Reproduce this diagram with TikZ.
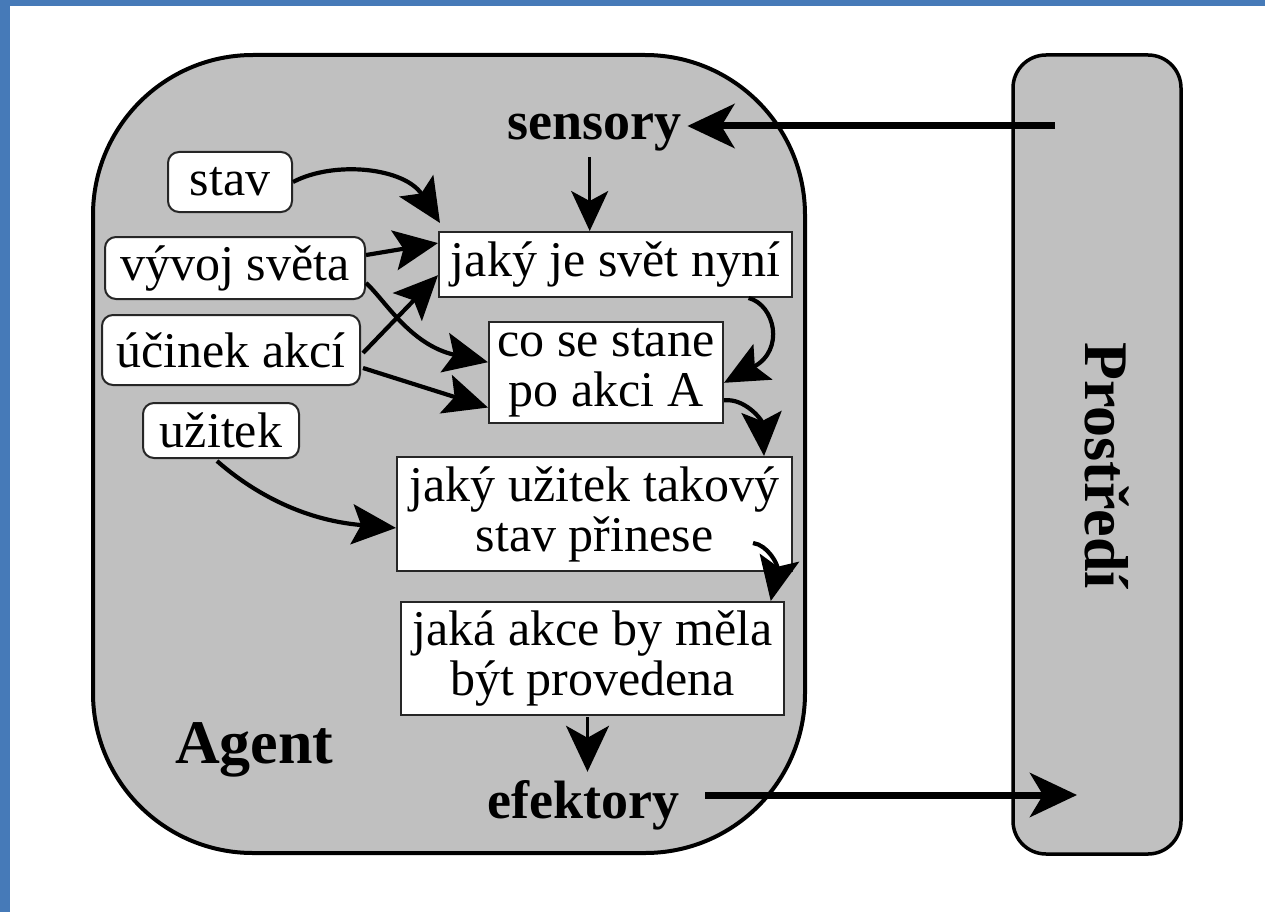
\documentclass[tikz,border=0pt]{standalone}
\usepackage{fontspec}
\setmainfont{Liberation Serif}
\usetikzlibrary{arrows.meta,calc}
\definecolor{slideblue}{RGB}{70,122,184}
\definecolor{panelgray}{RGB}{192,192,192}

\begin{document}
\begin{tikzpicture}[x=1pt,y=-1pt,
  boxtext/.style={font=\fontsize{50}{50}\selectfont},
  infobox/.style={draw=black!85, line width=2pt, fill=white, inner sep=0pt, align=center, boxtext},
  inputbox/.style={infobox, rounded corners=11pt},
  tag/.style={font=\fontsize{54}{54}\selectfont\bfseries, inner sep=0pt},
  bigtag/.style={font=\fontsize{62}{62}\selectfont\bfseries, inner sep=0pt},
  panel/.style={draw, fill=panelgray, inner sep=0pt},
  flow/.style={line width=4.2pt, -{Stealth[length=44pt,width=40pt,inset=9pt]}},
  link/.style={line width=7pt, -{Stealth[length=47pt,width=44pt,inset=13pt]}},
]
% page and slide frame
\useasboundingbox (0,0) rectangle (1265,912);
\fill[white] (0,0) rectangle (1265,912);
\fill[slideblue] (0,0) rectangle (1265,6);
\fill[slideblue] (0,0) rectangle (10,912);

% agent and environment
\node[panel, line width=4pt, rounded corners=160pt, minimum width=712pt, minimum height=798pt] (agent) at (449,454) {};
\node[panel, line width=3.5pt, rounded corners=33pt, minimum width=168pt, minimum height=799pt] (env) at (1097,454.5) {};

% knowledge inputs
\node[inputbox, minimum width=124pt, minimum height=60pt] (stav) at (230,182) {stav};
\node[inputbox, minimum width=260pt, minimum height=62pt] (vyvoj) at (235,268) {vývoj světa};
\node[inputbox, minimum width=258pt, minimum height=70pt] (ucinek) at (231,350) {účinek akcí};
\node[inputbox, minimum width=156pt, minimum height=55pt] (uzitek) at (221,430.5) {užitek};

% reasoning steps
\node[infobox, minimum width=353pt, minimum height=65pt] (now) at (615.5,264.5) {jaký je svět nyní};
\node[infobox, minimum width=234pt, minimum height=101pt] (next) at (606,372.5) {co se stane\\po akci A};
\node[infobox, minimum width=395pt, minimum height=114pt] (util) at (594.5,514) {jaký užitek takový\\stav přinese};
\node[infobox, minimum width=383pt, minimum height=113pt] (act) at (592.5,658.5) {jaká akce by měla\\být provedena};

% labels
\node[tag, anchor=base west] (sens) at (507,140) {sensory};
\node[tag, anchor=base west] (eff) at (487,818) {efektory};
\node[bigtag, anchor=base west] (agentlabel) at (175,763) {Agent};
\node[bigtag, rotate=-90, anchor=base west] (envlabel) at (1085,342) {Prostředí};

% percepts and actions
\coordinate (envin) at (1055,126);
\coordinate (envout) at (1077,795);
\draw[link] (envin) -- ($(envin -| sens.east)+(6,0)$);
\draw[link] ($(envout -| eff.east)+(26,0)$) -- (envout);

\path ($(sens.south)+(-4.5,5)$) coordinate (s0);
\draw[line width=2.5pt, -{Stealth[length=40pt,width=37pt,inset=10pt]}] (s0) -- (s0 |- now.north);

\path ($(act.south)+(-5,1)$) coordinate (a0);
\draw[line width=3pt, -{Stealth[length=46pt,width=43pt,inset=12pt]}] (a0) -- ($(a0 |- eff.north)+(0,-8)$);

% inputs into the reasoning steps
\draw[flow] (stav.east) .. controls (335,160) and (405,168) .. ($(now.north west)+(2,-8)$);
\draw[flow] ($(vyvoj.east)+(0,-13)$) -- ($(now.north west)!0.18!(now.south west)$);
\draw[flow] ($(vyvoj.east)+(0,15)$) .. controls (385,300) and (410,345) .. ($(next.north west)!0.4!(next.south west)$);
\draw[flow] ($(ucinek.east)+(2,3)$) -- ($(now.north west)!0.66!(now.south west)$);
\draw[flow] ($(ucinek.east)+(2,18)$) -- ($(next.north west)!0.84!(next.south west)$);
\draw[flow] ($(uzitek.south)+(-4,2)$) .. controls (250,490) and (300,520) .. ($(util.north west)!0.62!(util.south west)$);

% chain of reasoning steps
\draw[flow] ($(now.south west)!0.875!(now.south east)$) .. controls (775,305) and (785,350) .. ($(next.north east)!0.6!(next.south east)$);
\draw[flow] ($(next.north east)!0.77!(next.south east)$) .. controls (745,398) and (762,420) .. ($(util.north west)!0.927!(util.north east)$);
\draw[flow] ($(util.south east)+(-40,-29)$) .. controls (768,545) and (778,565) .. ($(act.north west)!0.963!(act.north east)$);
\end{tikzpicture}
\end{document}
